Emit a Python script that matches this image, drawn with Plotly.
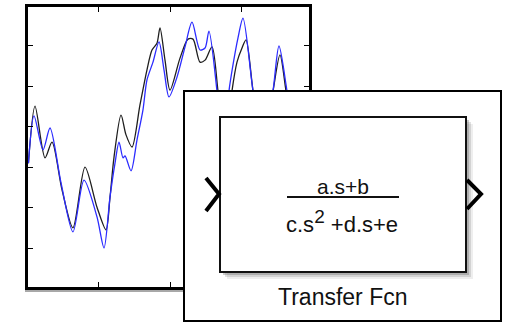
import plotly.graph_objects as go

W, H = 506, 322

# ---- data ----
black_x = [0.02, 0.112, 0.252, 0.350, 0.490, 0.643, 0.811, 0.979, 1.105, 1.161, 1.217, 1.315, 1.385,
           1.469, 1.580, 1.678, 1.748, 1.818, 1.860, 1.930, 2.000, 2.140, 2.252, 2.322, 2.420, 2.490,
           2.587, 2.671, 2.769, 2.867, 2.937, 3.007, 3.063, 3.161, 3.301, 3.441, 3.538, 3.622, 3.748, 3.944]
black_y = [3.10, 4.51, 3.23, 3.62, 2.44, 1.50, 3.00, 2.01, 1.45, 2.26, 3.25, 4.29, 3.80,
           3.50, 4.54, 5.41, 5.90, 6.07, 6.45, 5.65, 4.91, 5.70, 6.17, 6.17, 5.60, 5.65,
           5.98, 4.89, 3.43, 4.89, 5.60, 5.95, 6.15, 4.89, 3.43, 4.89, 5.78, 4.89, 3.43, 2.93]

blue_x = [0.02, 0.098, 0.224, 0.322, 0.476, 0.643, 0.797, 0.979, 1.077, 1.161, 1.231, 1.287, 1.343, 1.371,
          1.455, 1.538, 1.622, 1.678, 1.762, 1.846, 1.916, 1.986, 2.098, 2.210, 2.308, 2.420, 2.490,
          2.545, 2.657, 2.741, 2.825, 2.881, 2.951, 3.021, 3.161, 3.301, 3.441, 3.524, 3.636, 3.762, 3.944]
blue_y = [3.10, 4.27, 3.43, 3.97, 2.61, 1.40, 2.68, 1.77, 1.00, 2.26, 3.10, 3.62, 3.23, 3.28,
          2.91, 3.67, 4.42, 5.16, 5.60, 6.10, 5.41, 4.74, 5.23, 5.98, 6.59, 5.90, 5.95,
          6.37, 4.89, 3.43, 4.89, 5.53, 6.20, 6.69, 4.89, 3.43, 4.89, 6.00, 4.89, 3.43, 2.93]

x_ticks = [1, 2, 3]
y_ticks = [1, 2, 3, 4, 5, 6]

numerator = "a.s+b"
denominator = "c.s<sup><span style=\"font-size:19px\">2</span></sup> +d.s+e"
block_label = "Transfer Fcn"


def px(x):
    return x / W


def py(y):
    return 1 - y / H


fig = go.Figure()
fig.add_trace(go.Scatter(x=black_x, y=black_y, mode="lines",
                         line=dict(color="#1e1e1e", width=1.3, shape="spline", smoothing=0.8),
                         hoverinfo="skip", showlegend=False))
fig.add_trace(go.Scatter(x=blue_x, y=blue_y, mode="lines",
                         line=dict(color="#2b2bff", width=1.3, shape="spline", smoothing=0.8),
                         hoverinfo="skip", showlegend=False))

axis_common = dict(showline=True, linecolor="black", linewidth=3, mirror="ticks",
                   ticks="inside", ticklen=5, tickwidth=1, tickcolor="black",
                   showticklabels=False, showgrid=False, zeroline=False, fixedrange=True)

fig.update_layout(
    width=W, height=H,
    margin=dict(l=0, r=0, t=0, b=0),
    paper_bgcolor="white", plot_bgcolor="white",
    xaxis=dict(domain=[28 / W, 309 / W], range=[0.014, 3.944], tickvals=x_ticks, **axis_common),
    yaxis=dict(domain=[1 - 287 / H, 1 - 7 / H], range=[0.035, 6.965], tickvals=y_ticks, **axis_common),
)

shapes = []
# faint shadow under the plot's bottom edge
shapes.append(dict(type="line", xref="paper", yref="paper", layer="above",
                   x0=px(25), x1=px(184), y0=py(291), y1=py(291),
                   line=dict(color="#a8a8a8", width=2)))
# outer block frame
shapes.append(dict(type="rect", xref="paper", yref="paper", layer="above",
                   x0=px(184), x1=px(501), y0=py(321), y1=py(91),
                   fillcolor="white", line=dict(color="black", width=2)))
# inner block shadow
for off, op in [(7, 0.10), (5, 0.18), (3, 0.30)]:
    shapes.append(dict(type="rect", xref="paper", yref="paper", layer="above",
                       x0=px(220 + off), x1=px(466 + off), y0=py(272 + off), y1=py(117 + off),
                       fillcolor="rgba(90,90,90,%.2f)" % op, line=dict(width=0)))
# inner block
shapes.append(dict(type="rect", xref="paper", yref="paper", layer="above",
                   x0=px(220), x1=px(466), y0=py(272), y1=py(117),
                   fillcolor="white", line=dict(color="#111111", width=2)))
# ports
for (a, b, c) in [((206, 178), (219, 194), (206, 211)), ((467, 180), (481, 194), (467, 209))]:
    shapes.append(dict(type="path", xref="paper", yref="paper", layer="above",
                       path="M %f %f L %f %f L %f %f" % (px(a[0]), py(a[1]), px(b[0]), py(b[1]),
                                                       px(c[0]), py(c[1])),
                       line=dict(color="black", width=4)))
# fraction bar
shapes.append(dict(type="line", xref="paper", yref="paper", layer="above",
                   x0=px(287), x1=px(399), y0=py(197), y1=py(197),
                   line=dict(color="#111111", width=2)))
fig.update_layout(shapes=shapes)

font = dict(family="Liberation Sans, Arial, sans-serif", color="#111111")
fig.add_annotation(x=px(343), y=py(186), xref="paper", yref="paper", text=numerator,
                   showarrow=False, xanchor="center", yanchor="middle", font=dict(size=21, **font))
fig.add_annotation(x=px(342), y=py(221), xref="paper", yref="paper", text=denominator,
                   showarrow=False, xanchor="center", yanchor="middle", font=dict(size=22, **font))
fig.add_annotation(x=px(343), y=py(297), xref="paper", yref="paper", text=block_label,
                   showarrow=False, xanchor="center", yanchor="middle", font=dict(size=23, **font))

fig.write_html("out.html", config={"displayModeBar": False, "staticPlot": True},
               post_script="document.body.style.margin='0';document.body.style.padding='0';")
